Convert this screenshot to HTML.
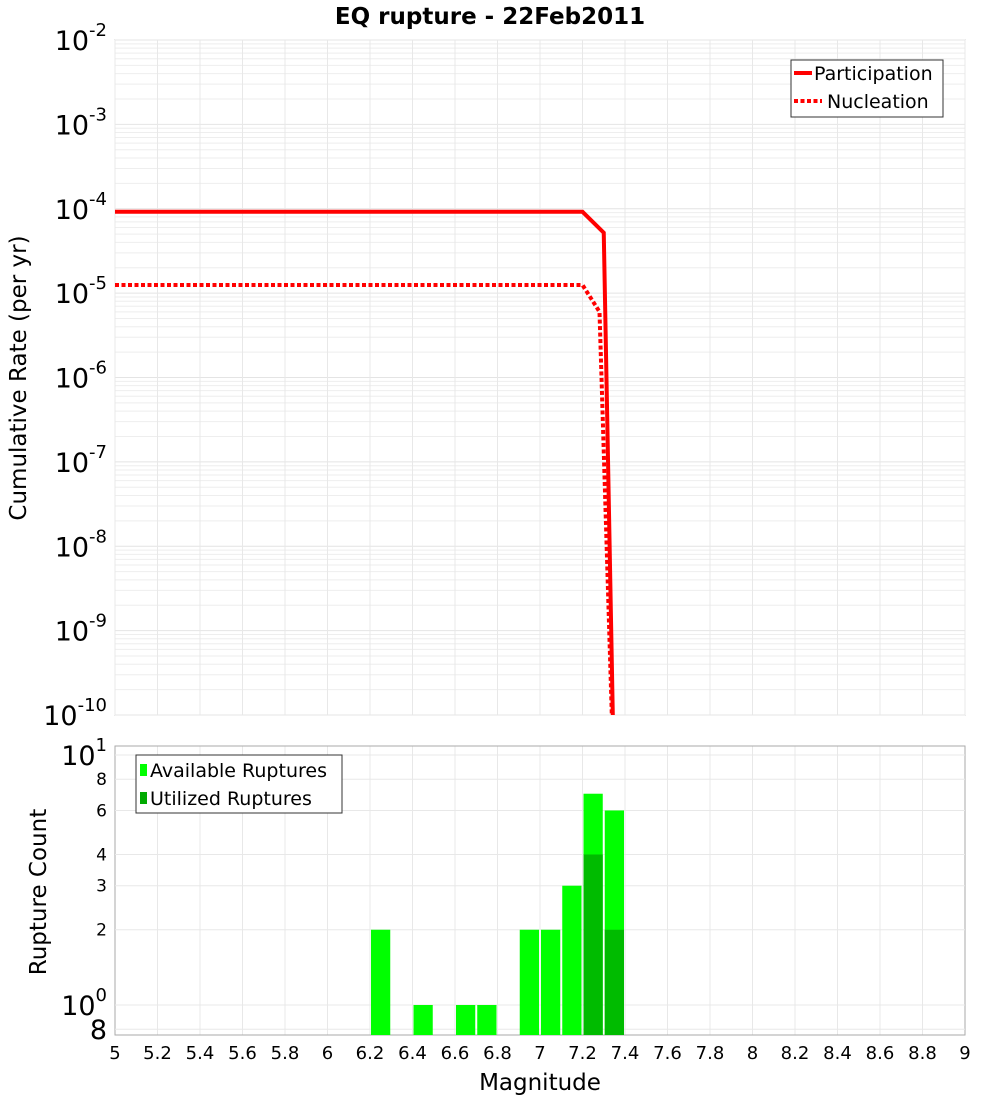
<!DOCTYPE html>
<html><head><meta charset="utf-8"><style>
body{margin:0;background:#fff;font-family:"DejaVu Sans","Liberation Sans",sans-serif}
</style></head><body>
<svg id="c" width="1000" height="1100" xmlns="http://www.w3.org/2000/svg" font-family="DejaVu Sans, Liberation Sans, sans-serif"></svg>
<script>
const partMags=[5,7.2,7.3,7.35];
const partRates=[9.2e-5,9.2e-5,5.2e-5,1e-11];
const nucMags=[5,7.2,7.28,7.35];
const nucRates=[1.25e-5,1.25e-5,6e-6,1e-11];
const binMags=[6.2,6.4,6.6,6.7,6.9,7.0,7.1,7.2,7.3];
const availCounts=[2,1,1,1,2,2,3,7,6];
const utilMags=[7.2,7.3];
const utilCounts=[4,2];
const xTicks=[5,5.2,5.4,5.6,5.8,6,6.2,6.4,6.6,6.8,7,7.2,7.4,7.6,7.8,8,8.2,8.4,8.6,8.8,9];
const yExps=[-10,-9,-8,-7,-6,-5,-4,-3,-2];
const bTicks=[[10,"10","1"],[8,"8"],[6,"6"],[4,"4"],[3,"3"],[2,"2"],[1,"10","0"],[0.8,"8"]];

const svg=document.getElementById('c');const NS='http://www.w3.org/2000/svg';
function el(t,a,txt){const e=document.createElementNS(NS,t);for(const k in a)e.setAttribute(k,a[k]);if(txt!==undefined)e.textContent=txt;svg.appendChild(e);return e;}
const L=115,R=965,T=40,B=715,BT=746,BB=1035;
const x=m=>L+(m-5)/4*(R-L);
const y=v=>T+(-2-Math.log10(v))/8*(B-T);
const yb=v=>1005-Math.log10(v)*250;

let r=el('rect',{x:L,y:T,width:R-L,height:B-T,fill:'#fff',stroke:'#aaa'});

for(let e=-10;e<-2;e++)for(let k=2;k<=9;k++){const g=el('line',{x1:L,x2:R,y1:y(k*10**e),y2:y(k*10**e),stroke:'#eee'});}
yExps.forEach(e=>{const g=el('line',{x1:L,x2:R,y1:y(10**e),y2:y(10**e),stroke:'#e4e4e4'});
 const t=el('text',{x:L-8,y:y(10**e)+10,'text-anchor':'end','font-size':27});
 t.innerHTML='10<tspan dy="-14" font-size="18">'+e+'</tspan>';});
xTicks.forEach(m=>{[[T,B],[BT,BB]].forEach(([a,b])=>{const g=el('line',{x1:x(m),x2:x(m),y1:a,y2:b,stroke:'#e8e8e8'});});
 const t=el('text',{x:x(m),y:1059,'text-anchor':'middle','font-size':18},String(m));});
const clip=el('clipPath',{id:'cp'});const cr=document.createElementNS(NS,'rect');cr.setAttribute('x',L);cr.setAttribute('y',T);cr.setAttribute('width',R-L);cr.setAttribute('height',B-T);clip.appendChild(cr);
let p=el('polyline',{points:partMags.map((m,i)=>x(m)+','+y(partRates[i])).join(' '),fill:'none',stroke:'#f00','stroke-width':4,'clip-path':'url(#cp)'});

p=el('polyline',{points:nucMags.map((m,i)=>x(m)+','+y(nucRates[i])).join(' '),fill:'none',stroke:'#f00','stroke-width':4,'stroke-dasharray':'4 2.5','clip-path':'url(#cp)'});

let lg=el('rect',{x:791,y:60,width:152,height:57,fill:'#fff',stroke:'#333'});
el('line',{x1:794,x2:812,y1:73,y2:73,stroke:'#f00','stroke-width':4});
el('line',{x1:794,x2:822,y1:101,y2:101,stroke:'#f00','stroke-width':4,'stroke-dasharray':'4 2.5'});
let t=el('text',{x:814,y:80,'font-size':19},'Participation');
t=el('text',{x:827,y:108,'font-size':19},'Nucleation');
t=el('text',{x:490,y:24,'text-anchor':'middle','font-size':23,'font-weight':'bold'},'EQ rupture - 22Feb2011');
t=el('text',{x:26,y:378,'text-anchor':'middle','font-size':23,transform:'rotate(-90 26 378)'},'Cumulative Rate (per yr)');

r=el('rect',{x:L,y:BT,width:R-L,height:BB-BT,fill:'none',stroke:'#aaa'});
bTicks.forEach(([v,s,sup])=>{const yy=yb(v);if(yy>BT&&yy<BB){const g=el('line',{x1:L,x2:R,y1:yy,y2:yy,stroke:'#e8e8e8'});}
 const big=sup!==undefined||v===0.8;const tt=el('text',{x:L-8,y:Math.min(Math.max(yy,BT),BB-6)+(big?10:6),'text-anchor':'end','font-size':big?27:17});
 tt.innerHTML=sup!==undefined?s+'<tspan dy="-14" font-size="18">'+sup+'</tspan>':s;});
const bw=(x(5.1)-x(5))-2;
binMags.forEach((m,i)=>{const b=el('rect',{x:x(m)+1,y:yb(availCounts[i]),width:bw,height:BB-yb(availCounts[i]),fill:'#00ff00'});});
utilMags.forEach((m,i)=>{const b=el('rect',{x:x(m)+1,y:yb(utilCounts[i]),width:bw,height:BB-yb(utilCounts[i]),fill:'#00bb00'});});
lg=el('rect',{x:136,y:755,width:206,height:58,fill:'#fff',stroke:'#333'});
el('rect',{x:140,y:764,width:7,height:12,fill:'#00ff00'});el('rect',{x:140,y:792,width:7,height:12,fill:'#00aa00'});
t=el('text',{x:150,y:777,'font-size':19},'Available Ruptures');
t=el('text',{x:150,y:805,'font-size':19},'Utilized Ruptures');
t=el('text',{x:46,y:892,'text-anchor':'middle','font-size':23,transform:'rotate(-90 46 892)'},'Rupture Count');
t=el('text',{x:540,y:1090,'text-anchor':'middle','font-size':23},'Magnitude');
</script>
</body></html>
